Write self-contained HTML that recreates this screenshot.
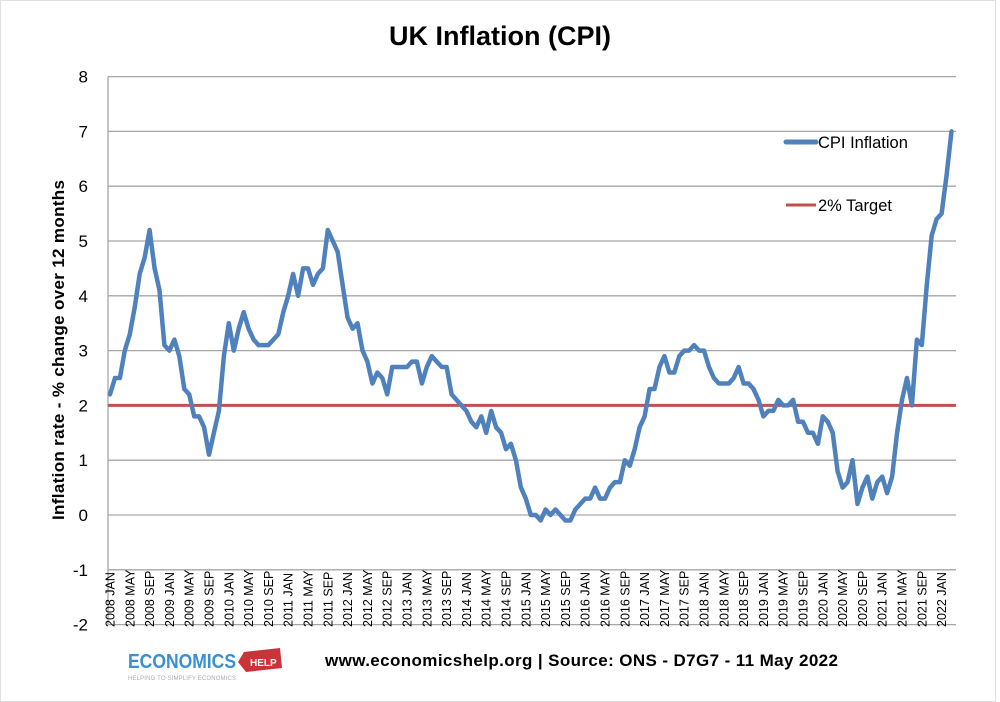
<!DOCTYPE html>
<html><head><style>
body{margin:0;background:#fff;}
svg{display:block;font-family:"Liberation Sans",sans-serif;}
</style></head><body>
<svg width="1000" height="702" viewBox="0 0 1000 702" xmlns="http://www.w3.org/2000/svg">
<rect x="0.5" y="0.5" width="995" height="701" fill="#fff" stroke="#e0e0e0"/>
<text x="500" y="45" text-anchor="middle" font-size="27" font-weight="bold">UK Inflation (CPI)</text>
<g id="grid" stroke="#a6a6a6" stroke-width="1.3"></g>
<g id="ylab" font-size="17" text-anchor="end"></g>
<text transform="translate(64,350) rotate(-90)" text-anchor="middle" font-size="17" font-weight="bold" textLength="340">Inflation rate  - % change over 12 months</text>
<g id="xlab" font-size="12.5"></g>
<line x1="108" y1="405.4" x2="956" y2="405.4" stroke="#c0504d" stroke-width="3"/>
<polyline id="cpi" fill="none" stroke="#4f81bd" stroke-width="4.5" stroke-linejoin="round" stroke-linecap="round"/>
<line x1="786" y1="142" x2="816" y2="142" stroke="#4f81bd" stroke-width="5" stroke-linecap="round"/>
<text x="818" y="148" font-size="16.5">CPI Inflation</text>
<line x1="786" y1="205" x2="816" y2="205" stroke="#c0504d" stroke-width="3"/>
<text x="818" y="211" font-size="16.5">2% Target</text>
<text x="128" y="668" font-size="20" font-weight="bold" fill="#3a8fd0" textLength="108" lengthAdjust="spacingAndGlyphs">ECONOMICS</text>
<path d="M244 652 L280 648 L282 668 L246 672 L238 662 Z" fill="#c8343a"/>
<text x="250" y="666" font-size="10" font-weight="bold" fill="#fff">HELP</text>
<text x="128" y="680" font-size="6" fill="#aab" textLength="108">HELPING TO SIMPLIFY ECONOMICS</text>
<text x="325" y="666" font-size="17" font-weight="bold" textLength="513">www.economicshelp.org | Source: ONS - D7G7 - 11 May 2022</text>
</svg>
<script>
var y0=515,s=54.8;function Y(v){return y0-v*s;}
var g=document.getElementById('grid'),yl=document.getElementById('ylab'),xl=document.getElementById('xlab');
var h='',t='';
for(var v=-2;v<=8;v++){h+='<line x1="108" x2="956" y1="'+Y(v)+'" y2="'+Y(v)+'"/>';t+='<text x="88" y="'+(Y(v)+6)+'">'+v+'</text>';}
h+='<line x1="108" x2="108" y1="77" y2="625"/>';
g.innerHTML=h;yl.innerHTML=t;
var d=[2.2,2.5,2.5,3.0,3.3,3.8,4.4,4.7,5.2,4.5,4.1,3.1,
3.0,3.2,2.9,2.3,2.2,1.8,1.8,1.6,1.1,1.5,1.9,2.9,
3.5,3.0,3.4,3.7,3.4,3.2,3.1,3.1,3.1,3.2,3.3,3.7,
4.0,4.4,4.0,4.5,4.5,4.2,4.4,4.5,5.2,5.0,4.8,4.2,
3.6,3.4,3.5,3.0,2.8,2.4,2.6,2.5,2.2,2.7,2.7,2.7,
2.7,2.8,2.8,2.4,2.7,2.9,2.8,2.7,2.7,2.2,2.1,2.0,
1.9,1.7,1.6,1.8,1.5,1.9,1.6,1.5,1.2,1.3,1.0,0.5,
0.3,0.0,0.0,-0.1,0.1,0.0,0.1,0.0,-0.1,-0.1,0.1,0.2,
0.3,0.3,0.5,0.3,0.3,0.5,0.6,0.6,1.0,0.9,1.2,1.6,
1.8,2.3,2.3,2.7,2.9,2.6,2.6,2.9,3.0,3.0,3.1,3.0,
3.0,2.7,2.5,2.4,2.4,2.4,2.5,2.7,2.4,2.4,2.3,2.1,
1.8,1.9,1.9,2.1,2.0,2.0,2.1,1.7,1.7,1.5,1.5,1.3,
1.8,1.7,1.5,0.8,0.5,0.6,1.0,0.2,0.5,0.7,0.3,0.6,
0.7,0.4,0.7,1.5,2.1,2.5,2.0,3.2,3.1,4.2,5.1,5.4,
5.5,6.2,7.0];
var dx=4.95,x0=110;
document.getElementById('cpi').setAttribute('points',d.map(function(v,i){return (x0+i*dx).toFixed(1)+','+Y(v).toFixed(1);}).join(' '));
var m=['JAN','MAY','SEP'],xt='';
for(var i=0;i<=168;i+=4){var x=x0+i*dx+4.5;xt+='<text transform="translate('+x.toFixed(1)+',627) rotate(-90)">'+(2008+Math.floor(i/12))+' '+m[(i%12)/4]+'</text>';}
xl.innerHTML=xt;
</script>
</body></html>
